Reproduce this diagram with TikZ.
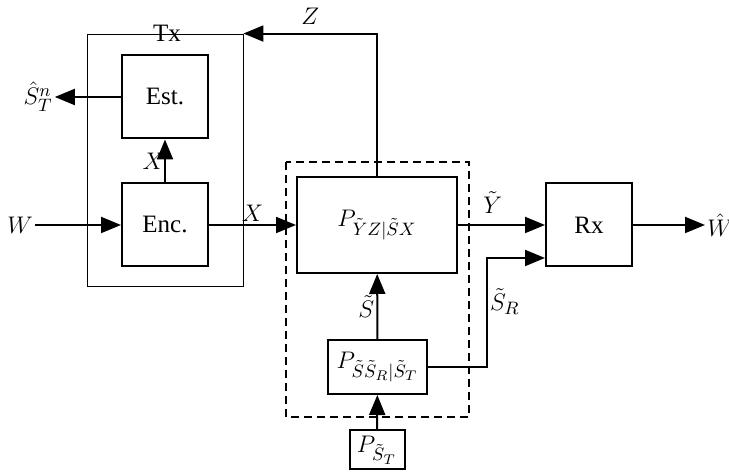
\documentclass[tikz,border=0pt]{standalone}
\usepackage{fontspec}
\setmainfont{Liberation Serif}
\DeclareMathSizes{12.5}{12.5}{9}{7}
\usetikzlibrary{arrows.meta}
\begin{document}
\begin{tikzpicture}[x=0.5pt,y=-0.5pt,font=\fontsize{12.5}{15}\selectfont,
  blk/.style={draw,line width=1pt,inner sep=0.5pt},
  arr/.style={line width=1pt,-{Triangle[length=10pt,width=8pt]}},
  lbl/.style={inner sep=1pt}]
  \useasboundingbox (0,0) rectangle (729,474);
  % transmitter
  \node[draw,line width=0.45pt,minimum width=78pt,minimum height=126pt] (tx) at (165,160) {};
  \node[lbl] (txl) at (167,33) {Tx};
  \node[blk,minimum width=43pt,minimum height=41.5pt] (est) at (165,97) {Est.};
  \node[blk,minimum width=43pt,minimum height=41.5pt] (enc) at (165,225) {Enc.};
  % channel
  \draw[line width=1pt,dash pattern=on 4pt off 2.5pt] (286,162) rectangle (469,417);
  \node[blk,minimum width=80pt,minimum height=48pt] (chan) at (377,225) {$P_{\tilde{Y}Z|\tilde{S}X}$};
  \node[blk,minimum width=49.5pt,minimum height=27pt] (stat) at (377.5,367) {$P_{\tilde{S}\tilde{S}_R|\tilde{S}_T}$};
  \node[blk,minimum width=27.5pt,minimum height=19.5pt] (src) at (377,450) {$P_{\tilde{S}_T}$};
  % receiver
  \node[blk,minimum width=43pt,minimum height=41.5pt] (rx) at (589,225) {Rx};
  \node[lbl] (w) at (20,225) {$W$};
  \node[lbl] (sth) at (38,97) {$\hat{S}_T^n$};
  \node[lbl,anchor=west] (wh) at (705,225) {$\hat{W}$};
  \coordinate (sr) at (487,258);
  % connectors
  \draw[arr] (w) -- (enc);
  \draw[arr] (enc) -- (est) node[midway,left=-1pt,lbl] {$X$};
  \draw[arr] (est) -- (sth);
  \draw[arr] (enc) -- (chan) node[midway,above,lbl] {$X$};
  \draw[arr] (chan.north) |- (tx.north east) node[pos=0.75,above=3pt,lbl] {$Z$};
  \draw[arr] (stat) -- (chan) node[midway,left,lbl] {$\tilde{S}$};
  \draw[arr] (src) -- (stat);
  \draw[arr] (chan) -- (rx) node[pos=0.4,above=4pt,lbl] {$\tilde{Y}$};
  \draw[arr] (stat.east) -| (sr) node[pos=0.8,right,lbl] {$\tilde{S}_R$} -- (sr -| rx.west);
  \draw[arr] (rx) -- (wh);
\end{tikzpicture}
\end{document}
